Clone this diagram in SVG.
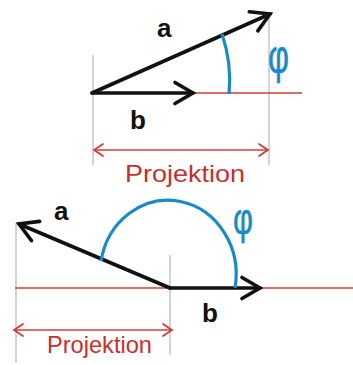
<svg xmlns="http://www.w3.org/2000/svg" width="353" height="365" viewBox="0 0 353 365">
<style>
.guide{stroke:#a8a8a8;stroke-width:1;fill:none}
.axis{stroke:#d23c36;stroke-width:1.6;fill:none}
.vec{stroke:#111;stroke-width:3.6;fill:none;stroke-linecap:round}
.arc{stroke:#1a8ac6;stroke-width:3.2;fill:none}
.dim{stroke:#d23c36;stroke-width:1.6;fill:none}
.lbl{font-family:"Liberation Sans",Arial,sans-serif;font-weight:bold;font-size:26px;fill:#111}
.phi{font-family:"Liberation Sans",Arial,sans-serif;font-size:48px;fill:#1a8ac6;stroke:#1a8ac6;stroke-width:0.6}
.proj{font-family:"Liberation Sans",Arial,sans-serif;font-size:24px;fill:#c8302c}
</style>
<defs>
<marker id="head" markerUnits="userSpaceOnUse" markerWidth="28" markerHeight="28" refX="0" refY="0" viewBox="-22 -14 28 28" orient="auto">
<path d="M -18 -10.5 L 0 0 L -18 10.5" fill="none" stroke="#111" stroke-width="3.6" stroke-linecap="round" stroke-linejoin="miter"/>
</marker>
<marker id="dimhead" markerUnits="userSpaceOnUse" markerWidth="20" markerHeight="20" refX="0" refY="0" viewBox="-12 -10 20 20" orient="auto-start-reverse">
<path d="M -9 -6 L 0 0 L -9 6" fill="none" stroke="#d23c36" stroke-width="1.8" stroke-linecap="round"/>
</marker>
</defs>
<g id="guides">
<line class="guide" x1="93" y1="55" x2="93" y2="165"/>
<line class="guide" x1="269" y1="13" x2="269" y2="165"/>
<line class="guide" x1="16" y1="223" x2="16" y2="363"/>
<line class="guide" x1="170" y1="255" x2="170" y2="355"/>
</g>
<g id="connectors">
<line class="axis" x1="193" y1="93" x2="302" y2="93"/>
<line class="axis" x1="15" y1="288" x2="353" y2="288"/>
<line class="vec" x1="92" y1="93" x2="270" y2="14" marker-end="url(#head)"/>
<line class="vec" x1="92" y1="93" x2="193" y2="93" marker-end="url(#head)"/>
<line class="vec" x1="170" y1="288" x2="19" y2="224" marker-end="url(#head)"/>
<line class="vec" x1="170" y1="288" x2="260" y2="288" marker-end="url(#head)"/>
<path class="arc" d="M 222 34 A 142 142 0 0 1 229 94"/>
<path class="arc" d="M 101 261 A 67 73 0 0 1 235 288"/>
<line class="dim" x1="94" y1="150" x2="268" y2="150" marker-start="url(#dimhead)" marker-end="url(#dimhead)"/>
<line class="dim" x1="14" y1="330" x2="172" y2="330" marker-start="url(#dimhead)" marker-end="url(#dimhead)"/>
</g>
<g id="labels">
<text class="lbl" x="157" y="37">a</text>
<text class="lbl" x="130" y="129">b</text>
<text class="phi" x="268" y="73" textLength="21" lengthAdjust="spacingAndGlyphs">φ</text>
<text class="proj" x="125" y="182" textLength="120" lengthAdjust="spacingAndGlyphs">Projektion</text>
<text class="lbl" x="54" y="220">a</text>
<text class="lbl" x="202" y="322">b</text>
<text class="phi" x="233" y="234" textLength="20" lengthAdjust="spacingAndGlyphs" style="font-size:44px">φ</text>
<text class="proj" x="47" y="353" textLength="105" lengthAdjust="spacingAndGlyphs">Projektion</text>
</g>
</svg>
